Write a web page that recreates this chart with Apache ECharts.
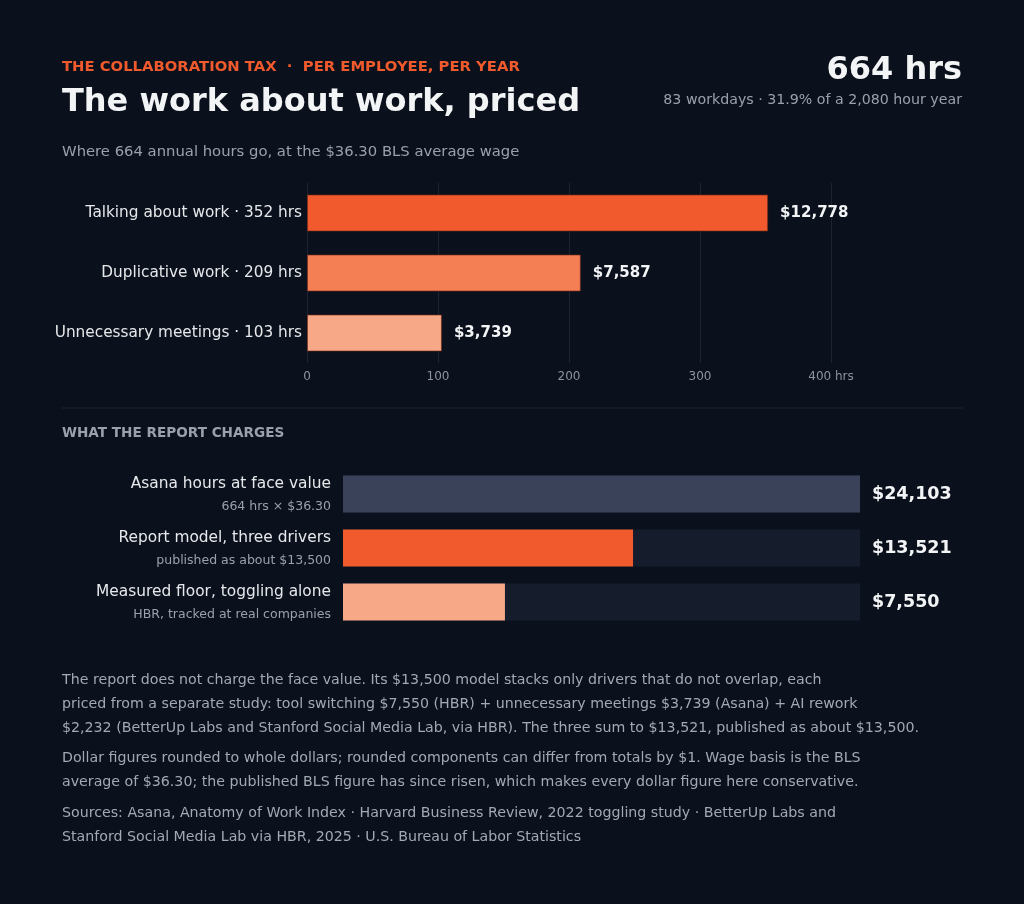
<!DOCTYPE html>
<html>
<head>
<meta charset="utf-8">
<script src="https://cdn.jsdelivr.net/npm/echarts@6/dist/echarts.min.js"></script>
<style>
  html, body { margin: 0; padding: 0; background: #0b111c; }
  #chart { width: 1024px; height: 904px; }
</style>
</head>
<body>
<div id="chart"></div>
<script>
// top panel: where the hours go
const hourCats = ['Talking about work', 'Duplicative work', 'Unnecessary meetings']
const hourValues = [352, 209, 103]
const hourDollars = ['$12,778', '$7,587', '$3,739']
const hourTicks = [0, 100, 200, 300, 400]

// bottom panel: what the report charges
const chargeCats = ['Asana hours at face value', 'Report model, three drivers', 'Measured floor, toggling alone']
const chargeNotes = ['664 hrs × $36.30', 'published as about $13,500', 'HBR, tracked at real companies']
const chargeValues = [24103, 13521, 7550]
const chargeLabels = ['$24,103', '$13,521', '$7,550']

const font = 'DejaVu Sans'
const hourColors = ['#f15a2c', '#f47f55', '#f7a886']
const chargeColors = ['#394259', '#f15a2c', '#f7a886']

const notes = [
    'The report does not charge the face value. Its $13,500 model stacks only drivers that do not overlap, each',
    'priced from a separate study: tool switching $7,550 (HBR) + unnecessary meetings $3,739 (Asana) + AI rework',
    '$2,232 (BetterUp Labs and Stanford Social Media Lab, via HBR). The three sum to $13,521, published as about $13,500.',
]
const notes2 = [
    'Dollar figures rounded to whole dollars; rounded components can differ from totals by $1. Wage basis is the BLS',
    'average of $36.30; the published BLS figure has since risen, which makes every dollar figure here conservative.',
]
const sources = [
    'Sources: Asana, Anatomy of Work Index · Harvard Business Review, 2022 toggling study · BetterUp Labs and',
    'Stanford Social Media Lab via HBR, 2025 · U.S. Bureau of Labor Statistics',
]

let chart = echarts.init(document.getElementById('chart'))

// text placed by its vertical middle
function txt(x, y, text, size, color, weight, align) {
    return {
        type: 'text',
        style: {
            text: text, x: x, y: y, fill: color, fontSize: size, fontFamily: font,
            fontWeight: weight || 'normal', textAlign: align || 'left', textVerticalAlign: 'middle'
        }
    }
}

let graphics = [
    txt(62, 67, 'THE COLLABORATION TAX  ·  PER EMPLOYEE, PER YEAR', 14.8, '#f15a2c', 'bold'),
    txt(62, 103, 'The work about work, priced', 32, '#f3f4f6', 'bold'),
    txt(62, 152, 'Where 664 annual hours go, at the $36.30 BLS average wage', 14.8, '#9aa1ad'),
    txt(62, 433, 'WHAT THE REPORT CHARGES', 13.6, '#9aa1ad', 'bold'),
    txt(962, 71, '664 hrs', 32, '#f3f4f6', 'bold', 'right'),
    txt(962, 100, '83 workdays · 31.9% of a 2,080 hour year', 14.2, '#9aa1ad', 'normal', 'right'),
    {
        type: 'line', shape: { x1: 62, y1: 408, x2: 963, y2: 408 },
        style: { stroke: '#1f2634', lineWidth: 1 }
    }
]
notes.forEach((t, i) => graphics.push(txt(62, 680 + i * 24, t, 14.2, '#a3a9b3')))
notes2.forEach((t, i) => graphics.push(txt(62, 758 + i * 24, t, 14.2, '#a3a9b3')))
sources.forEach((t, i) => graphics.push(txt(62, 813 + i * 24, t, 14.2, '#a3a9b3')))

let option = {
    backgroundColor: '#0b111c',
    animation: false,
    textStyle: { fontFamily: font },
    graphic: graphics,
    grid: [
        { left: 307, right: 193, top: 183, height: 180 },
        { left: 343, right: 164, top: 467, height: 162 }
    ],
    xAxis: [
        {
            gridIndex: 0, type: 'value', min: 0, max: 400, interval: 100,
            axisLine: { show: false }, axisTick: { show: false },
            splitLine: { lineStyle: { color: '#1c2333' } },
            axisLabel: {
                color: '#8b93a1', fontSize: 12, margin: 8,
                formatter: v => (v === hourTicks[hourTicks.length - 1] ? v + ' hrs' : String(v))
            }
        },
        {
            gridIndex: 1, type: 'value', min: 0, max: chargeValues[0],
            show: false
        }
    ],
    yAxis: [
        {
            gridIndex: 0, type: 'category', inverse: true,
            data: hourCats.map((c, i) => c + ' · ' + hourValues[i] + ' hrs'),
            axisLine: { show: false }, axisTick: { show: false },
            axisLabel: { color: '#e6e8eb', fontSize: 15.3, margin: 5 }
        },
        {
            gridIndex: 1, type: 'category', inverse: true,
            data: chargeCats,
            axisLine: { show: false }, axisTick: { show: false },
            axisLabel: {
                margin: 12, align: 'right',
                formatter: (v, i) => '{a|' + v + '}\n{b|' + chargeNotes[i] + '}',
                rich: {
                    a: { color: '#e6e8eb', fontSize: 15.4, lineHeight: 25, align: 'right', fontFamily: font },
                    b: { color: '#9aa1ad', fontSize: 12.5, lineHeight: 20, align: 'right', fontFamily: font }
                }
            }
        }
    ],
    series: [
        {
            type: 'bar', xAxisIndex: 0, yAxisIndex: 0, barWidth: 37,
            data: hourValues.map((v, i) => ({
                value: v,
                itemStyle: { color: hourColors[i], borderColor: 'rgba(120,40,20,0.6)', borderWidth: 1 }
            })),
            label: {
                show: true, position: 'right', distance: 12,
                color: '#f3f4f6', fontSize: 15, fontWeight: 'bold',
                formatter: p => hourDollars[p.dataIndex]
            }
        },
        {
            type: 'bar', xAxisIndex: 1, yAxisIndex: 1, barWidth: 37, barGap: '-100%',
            data: chargeValues.map(() => chargeValues[0]),
            itemStyle: { color: '#151c2c' },
            label: {
                show: true, position: 'right', distance: 12,
                color: '#f3f4f6', fontSize: 17.5, fontWeight: 'bold',
                formatter: p => chargeLabels[p.dataIndex]
            },
            silent: true
        },
        {
            type: 'bar', xAxisIndex: 1, yAxisIndex: 1, barWidth: 37, barGap: '-100%',
            data: chargeValues.map((v, i) => ({ value: v, itemStyle: { color: chargeColors[i] } }))
        }
    ]
}
chart.setOption(option)
</script>
</body>
</html>
